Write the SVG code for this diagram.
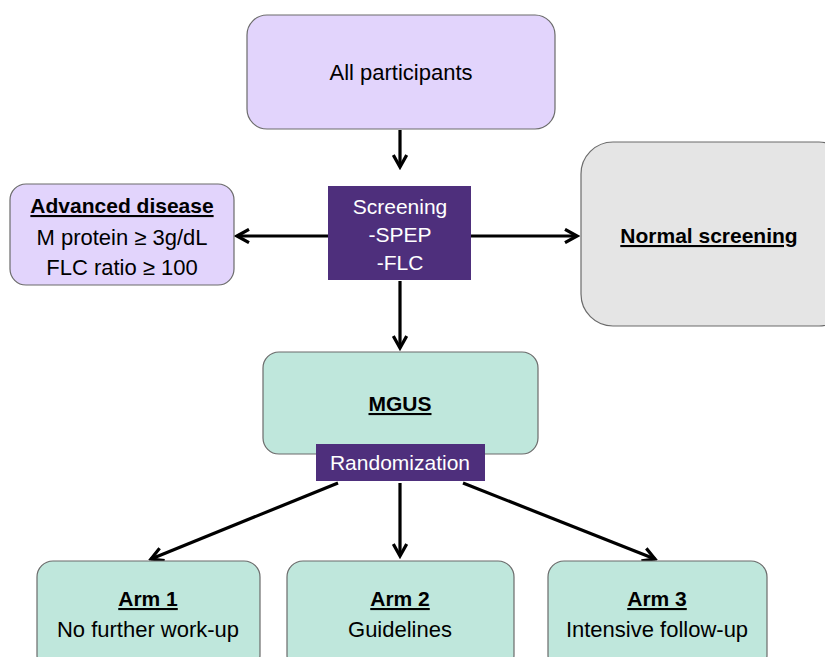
<svg xmlns="http://www.w3.org/2000/svg" width="825" height="657" viewBox="0 0 825 657">
<defs>
<style>
text{font-family:"Liberation Sans","DejaVu Sans",sans-serif;font-size:22px;fill:#000;text-anchor:middle}
.b{font-weight:bold;text-decoration:underline;font-size:21px}
.w{fill:#fff;font-size:21px}
.box{stroke:#6b6b6b;stroke-width:1.2}
.lav{fill:#E2D4FC}
.grn{fill:#BFE7DC}
.gry{fill:#E5E5E5}
.pur{fill:#4E2F7C}
.c{stroke:#000;stroke-width:3.2;fill:none;marker-end:url(#ah)}
</style>
<marker id="ah" viewBox="0 0 12 12" refX="10" refY="6" markerWidth="5" markerHeight="5" markerUnits="strokeWidth" orient="auto">
<path d="M1,1 L10,6 L1,11" fill="none" stroke="#000" stroke-width="2.4"/>
</marker>
</defs>
<g id="connectors">
<line class="c" x1="400" y1="130" x2="400" y2="167"/>
<line class="c" x1="328" y1="236" x2="237" y2="236"/>
<line class="c" x1="471" y1="236" x2="577" y2="236"/>
<line class="c" x1="400" y1="281" x2="400" y2="348"/>
<line class="c" x1="338" y1="483" x2="151" y2="559"/>
<line class="c" x1="400" y1="483" x2="400" y2="556"/>
<line class="c" x1="463" y1="483" x2="655" y2="559"/>
</g>
<g id="all">
<rect class="box lav" x="247" y="15" width="308" height="114" rx="20"/>
<text x="401" y="80">All participants</text>
</g>
<g id="screening">
<rect class="pur" x="328" y="186" width="143" height="94"/>
<text class="w" x="400" y="214">Screening</text>
<text class="w" x="400" y="242">-SPEP</text>
<text class="w" x="400" y="270">-FLC</text>
</g>
<g id="advanced">
<rect class="box lav" x="10" y="184" width="224" height="101" rx="16"/>
<text class="b" x="122" y="213">Advanced disease</text>
<text x="122" y="245">M protein ≥ 3g/dL</text>
<text x="122" y="275">FLC ratio ≥ 100</text>
</g>
<g id="normal">
<rect class="box gry" x="581" y="142" width="270" height="184" rx="32"/>
<text class="b" x="709" y="243">Normal screening</text>
</g>
<g id="mgus">
<rect class="box grn" x="263" y="352" width="275" height="102" rx="16"/>
<text class="b" x="400" y="411">MGUS</text>
</g>
<g id="randomization">
<rect class="pur" x="316" y="444" width="169" height="37"/>
<text class="w" x="400" y="470">Randomization</text>
</g>
<g id="arm1">
<rect class="box grn" x="37" y="561" width="223" height="110" rx="16"/>
<text class="b" x="148" y="606">Arm 1</text>
<text x="148" y="637">No further work-up</text>
</g>
<g id="arm2">
<rect class="box grn" x="287" y="561" width="227" height="110" rx="16"/>
<text class="b" x="400" y="606">Arm 2</text>
<text x="400" y="637">Guidelines</text>
</g>
<g id="arm3">
<rect class="box grn" x="548" y="561" width="219" height="110" rx="16"/>
<text class="b" x="657" y="606">Arm 3</text>
<text x="657" y="637">Intensive follow-up</text>
</g>
</svg>
